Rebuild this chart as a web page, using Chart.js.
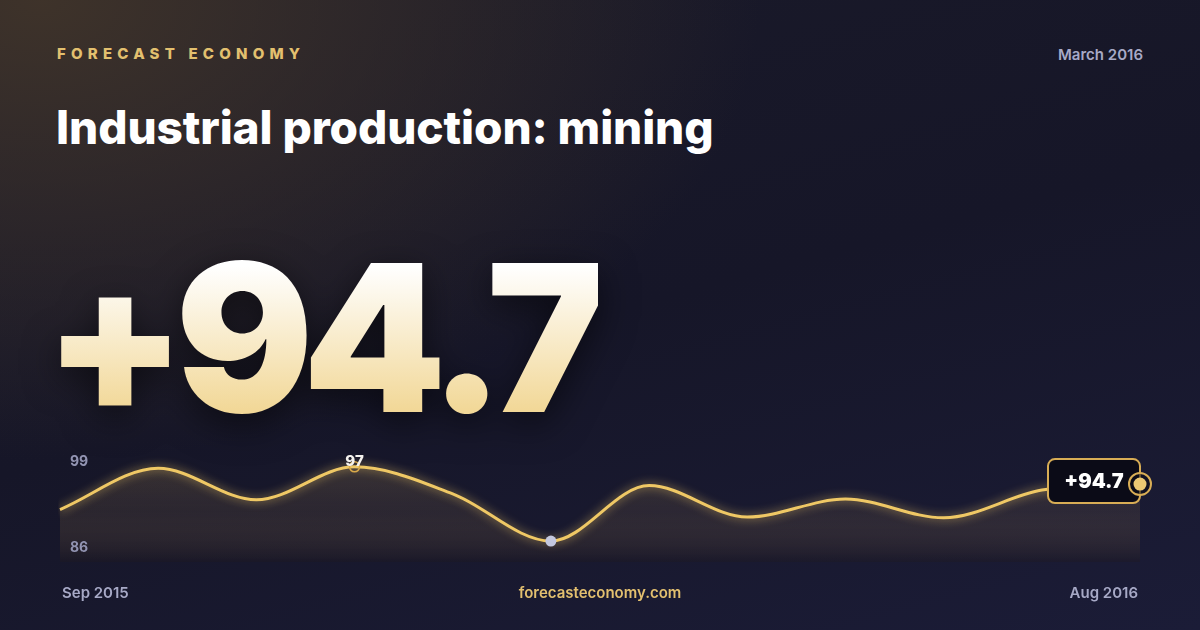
<!DOCTYPE html>
<html>
<head>
<meta charset="utf-8">
<script src="https://cdn.jsdelivr.net/npm/chart.js@4.4.1/dist/chart.umd.min.js"></script>
<style>
  html, body { margin: 0; padding: 0; }
  body {
    width: 1200px; height: 630px; overflow: hidden; position: relative;
    font-family: Inter, 'Noto Sans', sans-serif;
    background:
      radial-gradient(ellipse 720px 460px at 40px 0px, rgba(64,52,42,0.95) 0%, rgba(64,52,42,0) 100%),
      linear-gradient(165deg, #1a1a29 0%, #161628 50%, #1b1c37 100%);
  }
  .t { position: absolute; line-height: 1; white-space: nowrap; }
  .brand { left: 57px; top: 46px; font-size: 15px; font-weight: 800; letter-spacing: 5.2px; color: #e3c06f; }
  .date { right: 57px; top: 47px; font-size: 15px; font-weight: 600; color: #a7a9c6; }
  .title { left: 56px; top: 104px; font-size: 46px; font-weight: 800; letter-spacing: -0.1px; color: #ffffff; }
  .big {
    left: 44px; top: 235px; font-size: 205px; font-weight: 900; letter-spacing: -11px;
    background: linear-gradient(180deg, #ffffff 15%, #f2d898 85%);
    -webkit-background-clip: text; background-clip: text; color: transparent;
    filter: drop-shadow(0 10px 18px rgba(0,0,0,0.55));
  }
  .ylab { left: 70px; font-size: 14px; font-weight: 700; color: #9294b2; }
  .foot { top: 585px; font-size: 15px; font-weight: 600; color: #a7a9c6; }
  #wrap { position: absolute; left: 40px; top: 430px; width: 1130px; height: 140px; }
</style>
</head>
<body>
<div class="t brand">FORECAST ECONOMY</div>
<div class="t date">March 2016</div>
<div class="t title">Industrial production: mining</div>
<div class="t big">+94.7</div>
<div id="wrap"><canvas id="sparkChart"></canvas></div>
<div class="t ylab" style="top:454px">99</div>
<div class="t ylab" style="top:540px">86</div>
<div class="t foot" style="left:62px">Sep 2015</div>
<div class="t foot" style="left:0;width:1200px;text-align:center;color:#e3c06f">forecasteconomy.com</div>
<div class="t foot" style="right:62px">Aug 2016</div>

<script>
const months = ['Sep 2015', 'Oct 2015', 'Nov 2015', 'Dec 2015', 'Jan 2016', 'Feb 2016',
                'Mar 2016', 'Apr 2016', 'May 2016', 'Jun 2016', 'Jul 2016', 'Aug 2016'];
const values = [91.3, 96.8, 92.6, 97.0, 93.4, 87.1, 94.5, 90.3, 92.7, 90.2, 93.9, 94.7];
const yMin = 84.3;
const yMax = 99.25;
const peakIdx = 3;
const lowIdx = 5;
const lastIdx = values.length - 1;

const GOLD = '#efc865';

const markerPlugin = {
  id: 'markers',
  beforeDatasetDraw(chart, args) {
    if (args.index === 1) {
      chart.ctx.save();
      chart.ctx.shadowColor = 'rgba(240,200,100,0.75)';
      chart.ctx.shadowBlur = 10;
    }
  },
  afterDatasetDraw(chart, args) {
    if (args.index !== 1) return;
    const ctx = chart.ctx;
    ctx.restore();
    // value box + ring at the last point
    const pt = chart.getDatasetMeta(1).data[lastIdx];
    const x = pt.x, y = pt.y;
    const bx = x - 92, by = y - 25, bw = 92, bh = 44, r = 7;
    ctx.save();
    ctx.beginPath();
    ctx.roundRect(bx, by, bw, bh, r);
    ctx.fillStyle = '#0b0b17';
    ctx.fill();
    ctx.lineWidth = 2;
    ctx.strokeStyle = '#d8ad55';
    ctx.stroke();
    ctx.fillStyle = '#ffffff';
    ctx.font = '900 20px Inter';
    ctx.textAlign = 'center';
    ctx.textBaseline = 'middle';
    ctx.fillText('+' + values[lastIdx].toFixed(1), bx + bw / 2, by + bh / 2 + 1);
    ctx.beginPath();
    ctx.arc(x, y, 11, 0, Math.PI * 2);
    ctx.fillStyle = 'rgba(11,11,23,0.6)';
    ctx.fill();
    ctx.lineWidth = 2;
    ctx.strokeStyle = '#d8ad55';
    ctx.stroke();
    ctx.restore();
  },
  afterDatasetsDraw(chart) {
    const ctx = chart.ctx;
    const pt = chart.getDatasetMeta(0).data[peakIdx];
    ctx.save();
    ctx.fillStyle = '#f4f2ee';
    ctx.font = '800 15px Inter';
    ctx.textAlign = 'center';
    ctx.textBaseline = 'middle';
    ctx.fillText(Math.round(values[peakIdx]), pt.x, pt.y - 5);
    ctx.restore();
  }
};

new Chart(document.getElementById('sparkChart'), {
  type: 'line',
  data: {
    labels: months,
    datasets: [
      {
        label: 'markers',
        data: values,
        showLine: false,
        pointRadius: values.map((_, i) => i === peakIdx ? 5 : i === lowIdx ? 5.5 : i === lastIdx ? 6.5 : 0),
        pointBackgroundColor: values.map((_, i) => i === lowIdx ? '#c4c8df' : i === lastIdx ? '#ebc873' : 'transparent'),
        pointBorderColor: values.map((_, i) => i === peakIdx ? '#d9a94a' : 'transparent'),
        pointBorderWidth: 1.5,
        pointHoverRadius: 0
      },
      {
        label: 'Industrial production: mining',
        data: values,
        borderColor: GOLD,
        borderWidth: 3,
        cubicInterpolationMode: 'monotone',
        pointRadius: 0,
        fill: 'start',
        backgroundColor: ctx => {
          const area = ctx.chart.chartArea;
          if (!area) return 'transparent';
          const g = ctx.chart.ctx.createLinearGradient(0, area.top, 0, area.bottom);
          g.addColorStop(0, 'rgba(225,185,100,0.20)');
          g.addColorStop(0.55, 'rgba(190,150,90,0.12)');
          g.addColorStop(1, 'rgba(30,24,30,0.35)');
          return g;
        }
      }
    ]
  },
  options: {
    responsive: true,
    maintainAspectRatio: false,
    animation: false,
    events: [],
    layout: { padding: { left: 20, right: 30, top: 20, bottom: 5 } },
    plugins: {
      legend: { display: false },
      tooltip: { enabled: false },
      filler: { drawTime: 'beforeDatasetsDraw' }
    },
    scales: {
      x: { display: false, offset: false },
      y: { display: false, min: yMin, max: yMax }
    }
  },
  plugins: [markerPlugin]
});
</script>
</body>
</html>
